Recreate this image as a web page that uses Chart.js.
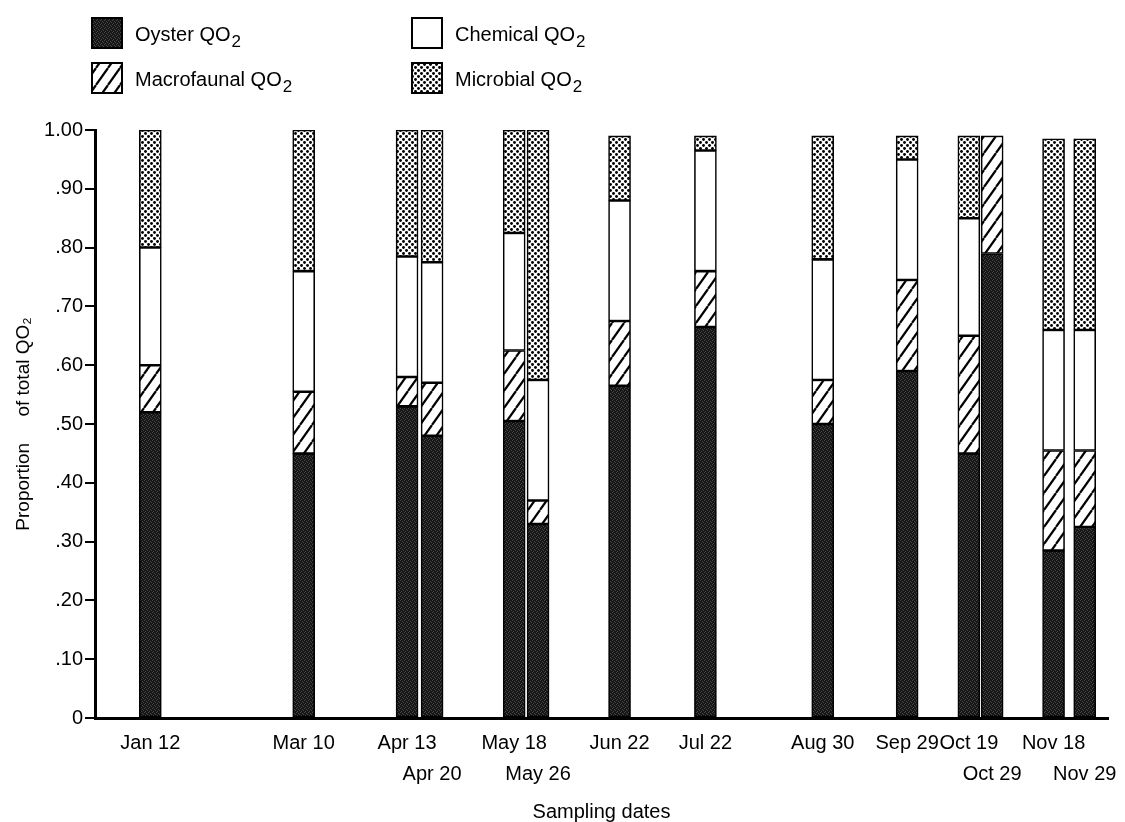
<!DOCTYPE html>
<html>
<head>
<meta charset="utf-8">
<script src="https://cdn.jsdelivr.net/npm/chart.js@4.4.1/dist/chart.umd.min.js"></script>
<style>
  html, body { margin: 0; padding: 0; background: #fff; }
  #wrap { width: 1125px; height: 822px; }
</style>
</head>
<body>
<div id="wrap"><canvas id="qo2Chart" width="1125" height="822"></canvas></div>
<script>
// Sampling dates and where each bar sits on the date axis (days from Jan 1)
const dates = ['Jan 12', 'Mar 10', 'Apr 13', 'Apr 20', 'May 18', 'May 26', 'Jun 22', 'Jul 22', 'Aug 30', 'Sep 29', 'Oct 19', 'Oct 29', 'Nov 18', 'Nov 29'];
const datePos = [12, 64.7, 100.2, 108.8, 137, 145.2, 173.2, 202.7, 243, 272, 293.2, 301.2, 322.3, 333];

// Proportion of total QO2 for each component (stacked bottom to top)
const oyster     = [0.52, 0.45, 0.53, 0.48, 0.505, 0.33, 0.565, 0.665, 0.50, 0.59, 0.45, 0.79, 0.285, 0.325];
const macrofauna = [0.08, 0.105, 0.05, 0.09, 0.12, 0.04, 0.11, 0.095, 0.075, 0.155, 0.20, 0.20, 0.17, 0.13];
const chemical   = [0.20, 0.205, 0.205, 0.205, 0.20, 0.205, 0.205, 0.205, 0.205, 0.205, 0.20, 0, 0.205, 0.205];
const microbial  = [0.20, 0.24, 0.215, 0.225, 0.175, 0.425, 0.11, 0.025, 0.21, 0.04, 0.14, 0, 0.325, 0.325];

const yTicks = [0, 0.1, 0.2, 0.3, 0.4, 0.5, 0.6, 0.7, 0.8, 0.9, 1.0];

const FONT = "'Liberation Sans', Arial, sans-serif";

// fill patterns like the printed figure
function tile(w, h, draw) {
    const c = document.createElement('canvas');
    c.width = w; c.height = h;
    const g = c.getContext('2d');
    draw(g, w, h);
    return c.getContext('2d').createPattern(c, 'repeat');
}
const stipple = tile(4, 4, (g) => {
    g.fillStyle = '#161616'; g.fillRect(0, 0, 4, 4);
    g.fillStyle = '#484848';
    [[0, 0], [2, 1], [1, 3], [3, 2]].forEach(p => g.fillRect(p[0], p[1], 1, 1));
});
const hatch = tile(12, 17, (g, w, h) => {
    g.fillStyle = '#fff'; g.fillRect(0, 0, w, h);
    g.strokeStyle = '#000'; g.lineWidth = 2.2;
    [-w, 0, w].forEach(dx => { g.beginPath(); g.moveTo(dx, h); g.lineTo(dx + w, 0); g.stroke(); });
});
const dots = tile(6, 6, (g) => {
    g.fillStyle = '#fff'; g.fillRect(0, 0, 6, 6);
    g.fillStyle = '#000';
    [[1.5, 1.5], [4.5, 4.5]].forEach(p => { g.beginPath(); g.arc(p[0], p[1], 1.45, 0, Math.PI * 2); g.fill(); });
});

const pts = arr => arr.map((v, i) => ({ x: datePos[i], y: v }));

// 2 x 2 legend at the top left
const cornerLegend = {
    id: 'cornerLegend',
    afterDraw(chart) {
        const ctx = chart.ctx;
        const spots = [[92, 18], [92, 63], [412, 18], [412, 63]];
        chart.data.datasets.forEach((ds, i) => {
            const [x, y] = spots[i];
            ctx.save();
            ctx.fillStyle = ds.backgroundColor;
            ctx.fillRect(x, y, 30, 30);
            ctx.lineWidth = 2;
            ctx.strokeStyle = '#000';
            ctx.strokeRect(x, y, 30, 30);
            ctx.fillStyle = '#000';
            ctx.textBaseline = 'alphabetic';
            ctx.font = '20px ' + FONT;
            const base = ds.label.replace(/2$/, '');
            ctx.fillText(base, x + 43, y + 23);
            const w = ctx.measureText(base).width;
            ctx.font = '17px ' + FONT;
            ctx.fillText('2', x + 44 + w, y + 29);
            ctx.restore();
        });
    }
};

const seg = { borderColor: '#000', borderWidth: 1.6, borderSkipped: false, barThickness: 22 };

new Chart(document.getElementById('qo2Chart'), {
    type: 'bar',
    data: {
        datasets: [
            { label: 'Oyster QO2', data: pts(oyster), backgroundColor: stipple, ...seg },
            { label: 'Macrofaunal QO2', data: pts(macrofauna), backgroundColor: hatch, ...seg },
            { label: 'Chemical QO2', data: pts(chemical), backgroundColor: '#fff', ...seg },
            { label: 'Microbial QO2', data: pts(microbial), backgroundColor: dots, ...seg }
        ]
    },
    options: {
        responsive: false,
        animation: false,
        devicePixelRatio: 1,
        layout: { padding: { top: 130, right: 17, left: 0, bottom: 0 } },
        plugins: { legend: { display: false }, tooltip: { enabled: false } },
        scales: {
            x: {
                type: 'linear',
                stacked: true,
                offset: false,
                min: -7,
                max: 341,
                afterFit: s => { s.height = 104; },
                afterBuildTicks: s => { s.ticks = datePos.map(v => ({ value: v })); },
                grid: { display: false },
                border: { display: true, color: '#000', width: 3 },
                ticks: {
                    autoSkip: false,
                    maxRotation: 0,
                    padding: 2,
                    color: '#000',
                    font: { family: FONT, size: 20, lineHeight: 1.55 },
                    callback: (v, i) => (i > 0 && datePos[i] - datePos[i - 1] < 15) ? ['', dates[i]] : dates[i]
                },
                title: {
                    display: true,
                    text: 'Sampling dates',
                    color: '#000',
                    font: { family: FONT, size: 20 },
                    padding: { top: 0, bottom: -2 }
                }
            },
            y: {
                stacked: true,
                min: 0,
                max: 1,
                afterFit: s => { s.width = 95; },
                afterBuildTicks: s => { s.ticks = yTicks.map(v => ({ value: v })); },
                grid: { drawOnChartArea: false, drawTicks: true, tickLength: 10, color: '#000', lineWidth: 2 },
                border: { display: true, color: '#000', width: 3 },
                ticks: {
                    padding: 2,
                    color: '#000',
                    font: { family: FONT, size: 20 },
                    callback: v => {
                        const n = Math.round(v * 100);
                        if (n === 0) return '0';
                        if (n === 100) return '1.00';
                        return '.' + String(n).padStart(2, '0');
                    }
                },
                title: {
                    display: true,
                    text: 'Proportion     of total QO₂',
                    color: '#000',
                    font: { family: FONT, size: 19 },
                    padding: { top: 12, bottom: 0 }
                }
            }
        }
    },
    plugins: [cornerLegend]
});
</script>
</body>
</html>
